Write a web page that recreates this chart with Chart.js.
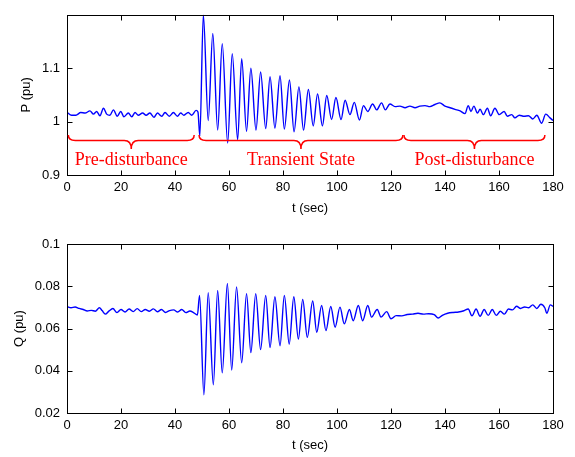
<!DOCTYPE html>
<html>
<head>
<meta charset="utf-8">
<script src="https://cdn.jsdelivr.net/npm/chart.js@4.4.1/dist/chart.umd.min.js"></script>
<style>
body { margin: 0; background: #fff; }
#wrap { position: relative; width: 575px; height: 457px; }
canvas { position: absolute; left: 0; }
#p-chart { top: 0; }
#q-chart { top: 225px; }
</style>
</head>
<body>
<div id="wrap">
<canvas id="p-chart" width="575" height="225"></canvas>
<canvas id="q-chart" width="575" height="232"></canvas>
</div>
<script>
const tTicks = [0, 20, 40, 60, 80, 100, 120, 140, 160, 180];
const pTicks = [0.9, 1, 1.1];
const qTicks = [0.02, 0.04, 0.06, 0.08, 0.1];

// active power
const pTime = [0, 1.7, 3.3, 5.1, 6.7, 8.5, 9.8, 11, 12.2, 13.5, 14.7, 15.9, 17.2, 18.6, 19.9, 21.1, 22.7, 24, 25.2, 26.4,
  28, 29.3, 30.7, 32.2, 33.5, 35.1, 36.3, 37.9, 39.4, 40.9, 42.1, 43.3, 44.9, 46.2, 47.8, 48.5, 49.2,
  50.5, 52.3, 54.0, 55.8, 57.5, 59.5, 61.2, 63.2, 64.7, 66.5, 68.1, 70, 71.7, 73.6, 75.2, 77, 78.9, 80.5,
  82.4, 84.1, 85.9, 87.6, 89.4, 91.2, 92.8, 94.6, 96.2, 98.0, 99.6, 101.5, 103, 104.8, 106.4, 108.3, 109.8,
  111.4, 113.2, 114.7, 116.5, 117.9, 119.6, 121.5, 123.3, 125.2, 127, 128.9, 130.7, 132.6, 134.4, 136.3,
  138.1, 140, 141.9, 143.7, 145.6, 147.4, 148.6, 149.6, 150.7, 152, 153, 154.2, 155.7, 156.9, 158.5, 160.1,
  161.9, 163.1, 164.7, 165.9, 167.5, 169.3, 170.9, 172.5, 174, 175.8, 177.3, 178.9, 180];
const pValue = [1.0175, 1.012, 1.012, 1.017, 1.016, 1.020, 1.014, 1.019, 1.011, 1.025, 1.014, 1.012, 1.022, 1.010, 1.019, 1.009, 1.016, 1.009, 1.017, 1.012,
  1.016, 1.012, 1.016, 1.008, 1.016, 1.010, 1.017, 1.010, 1.017, 1.010, 1.016, 1.012, 1.017, 1.012, 1.021, 1.018, 0.973,
  1.2, 1.002, 1.165, 0.984, 1.146, 0.960, 1.127, 0.966, 1.118, 0.982, 1.100, 0.984, 1.093, 0.987, 1.084, 0.988, 1.086, 0.986,
  1.078, 0.981, 1.065, 0.984, 1.060, 0.992, 1.052, 0.992, 1.049, 1.004, 1.045, 1.004, 1.040, 1.013, 1.036, 1.003, 1.030,
  1.019, 1.033, 1.022, 1.035, 1.022, 1.033, 1.028, 1.029, 1.026, 1.029, 1.026, 1.029, 1.030, 1.028, 1.032,
  1.035, 1.029, 1.026, 1.023, 1.020, 1.015, 1.030, 1.019, 1.029, 1.016, 1.023, 1.013, 1.025, 1.011, 1.025, 1.013,
  1.019, 1.010, 1.013, 1.007, 1.012, 1.010, 1.011, 1.005, 1.012, 0.997, 1.014, 1.007, 1.002];

// reactive power
const qTime = [0, 1.5, 3, 4.5, 6, 7.5, 9, 10.5, 12, 13, 14.2, 15.5, 17, 18.5, 20, 21.5, 23, 24.5, 26, 27.5,
  29, 30.5, 32, 33.5, 35, 36.5, 38, 39.5, 41, 42.5, 44, 45.5, 47, 48.3,
  49.1, 50.7, 52.3, 54.2, 55.8, 57.5, 59.4, 61, 62.8, 64.7, 66.5, 68.1, 69.9, 71.7, 73.6, 75.2, 77, 78.9,
  80.5, 82.3, 84, 85.7, 87.3, 89, 91, 92.5, 94.3, 95.9, 97.7, 99.3, 101.1, 102.7, 104.6, 106, 107.9, 109.5,
  111.4, 112.8, 114.9, 116.3, 118.4, 120, 121.9, 124, 126, 128, 130, 132, 134, 136, 137.5, 139, 141, 143,
  145, 147, 148.6, 150, 151.5, 153, 154.5, 156, 157.5, 159, 160.5, 162, 163.5, 165, 166.5, 168, 169.5, 171,
  172.5, 174, 175.5, 177, 177.7, 179, 180];
const qValue = [0.0704, 0.0698, 0.0702, 0.0695, 0.0690, 0.0683, 0.0686, 0.0682, 0.0698, 0.0685, 0.0668, 0.0682, 0.0695, 0.0675, 0.0690, 0.0678, 0.0692, 0.0680, 0.0694, 0.0680,
  0.0690, 0.0682, 0.0693, 0.0679, 0.0690, 0.0676, 0.0685, 0.0688, 0.0678, 0.0690, 0.0675, 0.0683, 0.0674, 0.0664,
  0.0757, 0.0286, 0.0770, 0.0334, 0.0780, 0.0390, 0.0813, 0.0403, 0.0797, 0.0438, 0.0765, 0.0486, 0.0765, 0.0500, 0.0757, 0.0510, 0.0750, 0.0518,
  0.0757, 0.0526, 0.0750, 0.0550, 0.0738, 0.0558, 0.0730, 0.0582, 0.0709, 0.0590, 0.0704, 0.0606, 0.0701, 0.0622, 0.0690, 0.0637, 0.0709, 0.0637,
  0.0709, 0.0654, 0.0690, 0.0654, 0.0680, 0.0646, 0.0661, 0.0660, 0.0666, 0.0668, 0.0672, 0.0668, 0.0670, 0.0666, 0.0650, 0.0662, 0.0672, 0.0676,
  0.0678, 0.0684, 0.0692, 0.0660, 0.0692, 0.0658, 0.0690, 0.0662, 0.0690, 0.0662, 0.0682, 0.0668, 0.0692, 0.0688, 0.0705, 0.0695, 0.0702, 0.0698,
  0.0712, 0.0695, 0.0715, 0.0697, 0.0672, 0.0712, 0.0705];

const phaseNames = ['Pre-disturbance', 'Transient State', 'Post-disturbance'];
const phaseStart = [0.5, 48.9, 124.8];
const phaseEnd = [47.1, 124.4, 177];

const font = {family: '"Liberation Sans", Arial, sans-serif', size: 13};

// MATLAB style box with inward ticks on all four sides
const framePlugin = {
  id: 'frame',
  afterDatasetsDraw(chart) {
    const {ctx, chartArea: a, scales: {x, y}} = chart;
    const L = Math.round(a.left) + 0.5, R = Math.round(a.right) + 0.5;
    const T = Math.round(a.top) + 0.5, B = Math.round(a.bottom) + 0.5;
    ctx.save();
    ctx.strokeStyle = '#000';
    ctx.lineWidth = 1;
    ctx.beginPath();
    x.ticks.forEach(t => {
      const px = Math.round(x.getPixelForValue(t.value)) + 0.5;
      ctx.moveTo(px, B); ctx.lineTo(px, B - 5);
      ctx.moveTo(px, T); ctx.lineTo(px, T + 5);
    });
    y.ticks.forEach(t => {
      const py = Math.round(y.getPixelForValue(t.value)) + 0.5;
      ctx.moveTo(L, py); ctx.lineTo(L + 5, py);
      ctx.moveTo(R, py); ctx.lineTo(R - 5, py);
    });
    ctx.stroke();
    ctx.strokeRect(L, T, R - L, B - T);
    ctx.restore();
  }
};

function drawBrace(ctx, x0, x1, yTop, yMid, yTip) {
  const xc = (x0 + x1) / 2, r = 7;
  ctx.moveTo(x0, yTop);
  ctx.quadraticCurveTo(x0, yMid, x0 + r, yMid);
  ctx.lineTo(xc - r, yMid);
  ctx.quadraticCurveTo(xc, yMid, xc, yTip);
  ctx.quadraticCurveTo(xc, yMid, xc + r, yMid);
  ctx.lineTo(x1 - r, yMid);
  ctx.quadraticCurveTo(x1, yMid, x1, yTop);
}

const bracePlugin = {
  id: 'braces',
  afterDatasetsDraw(chart) {
    const {ctx, scales: {x, y}} = chart;
    const yTop = y.getPixelForValue(0.975);
    const yMid = yTop + 5.5;
    const yTip = yTop + 14;
    const yText = y.getPixelForValue(0.9195);
    ctx.save();
    ctx.strokeStyle = '#ff0000';
    ctx.fillStyle = '#ff0000';
    ctx.lineWidth = 1.5;
    ctx.font = '18px "Liberation Serif", "Times New Roman", serif';
    ctx.textAlign = 'center';
    ctx.textBaseline = 'alphabetic';
    phaseNames.forEach((name, i) => {
      const x0 = x.getPixelForValue(phaseStart[i]);
      const x1 = x.getPixelForValue(phaseEnd[i]);
      ctx.beginPath();
      drawBrace(ctx, x0, x1, yTop, yMid, yTip);
      ctx.stroke();
      ctx.fillText(name, (x0 + x1) / 2, yText);
    });
    ctx.restore();
  }
};

function makeChart(id, times, values, yTicks, yMin, yMax, yLabel, box, extra) {
  const points = times.map((t, i) => ({x: t, y: values[i]}));
  return new Chart(document.getElementById(id), {
    type: 'line',
    data: {
      datasets: [{
        data: points,
        borderColor: '#0000ff',
        borderWidth: 1.4,
        pointRadius: 0,
        fill: false,
        cubicInterpolationMode: 'monotone'
      }]
    },
    options: {
      responsive: false,
      animation: false,
      devicePixelRatio: 1,
      layout: {padding: {top: box.top, right: 22, left: 0, bottom: 0}},
      plugins: {legend: {display: false}, tooltip: {enabled: false}},
      scales: {
        x: {
          type: 'linear', min: 0, max: 180,
          afterBuildTicks: s => { s.ticks = tTicks.map(v => ({value: v})); },
          afterFit: s => { s.height = box.xHeight; },
          grid: {display: false, drawTicks: false},
          border: {display: false},
          ticks: {font, color: '#000', padding: 5, maxRotation: 0, autoSkip: false, callback: v => String(v)},
          title: {display: true, text: 't (sec)', font, color: '#000', padding: {top: 0, bottom: box.xTitlePad}}
        },
        y: {
          type: 'linear', min: yMin, max: yMax,
          afterBuildTicks: s => { s.ticks = yTicks.map(v => ({value: v})); },
          afterFit: s => { s.width = 67; },
          grid: {display: false, drawTicks: false},
          border: {display: false},
          ticks: {font, color: '#000', padding: 7, autoSkip: false, callback: v => String(v)},
          title: {display: true, text: yLabel, font, color: '#000', padding: {top: box.yTitlePad, bottom: 0}}
        }
      }
    },
    plugins: [framePlugin].concat(extra)
  });
}

makeChart('p-chart', pTime, pValue, pTicks, 0.9, 1.2, 'P (pu)',
  {top: 6, xHeight: 50, xTitlePad: 9, yTitlePad: 19}, [bracePlugin]);
makeChart('q-chart', qTime, qValue, qTicks, 0.02, 0.1, 'Q (pu)',
  {top: 19, xHeight: 44, xTitlePad: 4, yTitlePad: 12}, []);
</script>
</body>
</html>
